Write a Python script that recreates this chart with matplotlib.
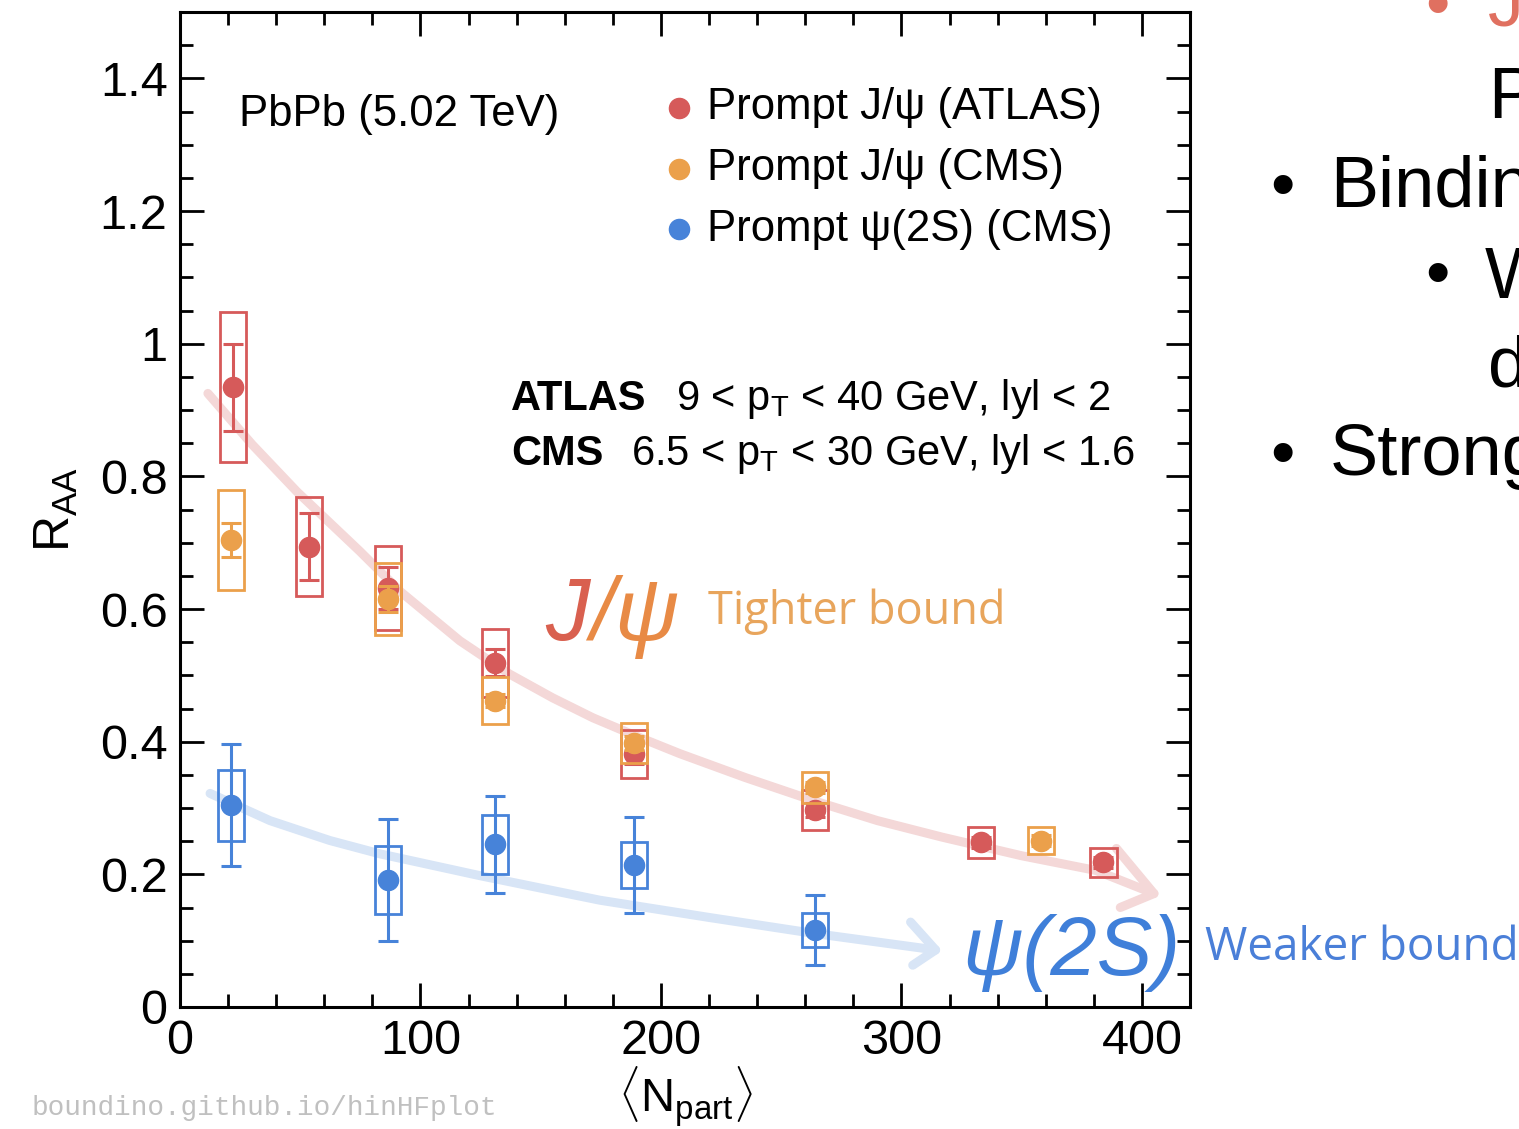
import matplotlib

matplotlib.use("Agg")
import matplotlib.pyplot as plt
from matplotlib.patches import Rectangle
from matplotlib.ticker import MultipleLocator


# R_AA vs <Npart>
npart_atlas = [22.0, 53.6, 86.5, 131.0, 188.7, 264.0, 333.0, 384.0]
raa_atlas = [0.934, 0.694, 0.632, 0.519, 0.381, 0.297, 0.248, 0.218]
stat_atlas = [0.065, 0.050, 0.032, 0.020, 0.014, 0.010, 0.008, 0.008]
syst_atlas = [0.113, 0.075, 0.063, 0.051, 0.036, 0.030, 0.024, 0.022]

npart_cms = [21.2, 86.5, 131.0, 188.7, 264.0, 358.0]
raa_jpsi_cms = [0.704, 0.615, 0.462, 0.398, 0.331, 0.251]
stat_jpsi_cms = [0.025, 0.020, 0.010, 0.010, 0.008, 0.008]
syst_jpsi_cms = [0.076, 0.054, 0.035, 0.030, 0.023, 0.021]

npart_psi2s = [21.2, 86.5, 131.0, 188.7, 264.0]
raa_psi2s = [0.304, 0.191, 0.245, 0.214, 0.116]
stat_psi2s = [0.092, 0.092, 0.073, 0.072, 0.053]
syst_psi2s = [0.054, 0.051, 0.044, 0.035, 0.026]

# hand-drawn guide arrows (data units)
guide_jpsi_x = [11.6, 30.0, 48.6, 74.8, 91.4, 116.4, 137.0, 155.0, 171.7, 190.0, 207.8, 235.0,
                263.5, 290.0, 317.0, 350.0, 380.7, 405.0]
guide_jpsi_y = [0.925, 0.848, 0.777, 0.687, 0.627, 0.552, 0.502, 0.466, 0.436, 0.408, 0.382,
                0.346, 0.311, 0.281, 0.256, 0.228, 0.206, 0.171]
guide_jpsi_head_x = [389.4, 405.0, 391.0]
guide_jpsi_head_y = [0.239, 0.171, 0.150]

guide_psi2s_x = [12.5, 37.4, 62.3, 83.0, 124.7, 174.6, 220.0, 263.5, 314.2]
guide_psi2s_y = [0.322, 0.281, 0.251, 0.231, 0.198, 0.161, 0.135, 0.111, 0.086]
guide_psi2s_head_x = [303.8, 314.2, 304.7]
guide_psi2s_head_y = [0.128, 0.086, 0.063]

RED = "#d65a5a"
ORANGE = "#eba04b"
BLUE = "#4783d9"
BOX_HALF = 5.5

W, H = 1519, 1129

plt.rcParams["font.family"] = ["Liberation Sans", "DejaVu Sans"]
plt.rcParams["mathtext.fontset"] = "custom"
plt.rcParams["mathtext.rm"] = "Liberation Sans"
plt.rcParams["mathtext.it"] = "Liberation Sans:italic"


def fpx(x, y):
    return x / W, 1 - y / H


def draw_series(ax, xs, ys, stat, syst, color, z):
    for x, y, s in zip(xs, ys, syst):
        ax.add_patch(Rectangle((x - BOX_HALF, y - s), 2 * BOX_HALF, 2 * s, fill=False,
                               edgecolor=color, linewidth=2.0, zorder=z))
    ax.errorbar(xs, ys, yerr=stat, fmt="o", color=color, markersize=14.5, elinewidth=2.2,
                capsize=7, capthick=2.2, zorder=z + 0.5)


fig = plt.figure(figsize=(W / 100, H / 100), dpi=100)
ax = fig.add_axes([180 / W, 1 - 1007 / H, 1010 / W, 995 / H])

ax.plot(guide_jpsi_x, guide_jpsi_y, color="#f4d8d8", lw=6.5, solid_capstyle="round",
        solid_joinstyle="round", zorder=1)
ax.plot(guide_jpsi_head_x, guide_jpsi_head_y, color="#f4d8d8", lw=6.5,
        solid_capstyle="round", solid_joinstyle="round", zorder=1)
ax.plot(guide_psi2s_x, guide_psi2s_y, color="#d8e5f6", lw=6.5, solid_capstyle="round",
        solid_joinstyle="round", zorder=1)
ax.plot(guide_psi2s_head_x, guide_psi2s_head_y, color="#d8e5f6", lw=6.5,
        solid_capstyle="round", solid_joinstyle="round", zorder=1)

draw_series(ax, npart_atlas, raa_atlas, stat_atlas, syst_atlas, RED, 3)
draw_series(ax, npart_cms, raa_jpsi_cms, stat_jpsi_cms, syst_jpsi_cms, ORANGE, 4)
draw_series(ax, npart_psi2s, raa_psi2s, stat_psi2s, syst_psi2s, BLUE, 5)

ax.set_xlim(0, 420)
ax.set_ylim(0, 1.5)
ax.xaxis.set_major_locator(MultipleLocator(100))
ax.xaxis.set_minor_locator(MultipleLocator(20))
ax.yaxis.set_major_locator(MultipleLocator(0.2))
ax.yaxis.set_minor_locator(MultipleLocator(0.05))
ax.set_yticks([0, 0.2, 0.4, 0.6, 0.8, 1.0, 1.2, 1.4])
ax.set_yticklabels(["0", "0.2", "0.4", "0.6", "0.8", "1", "1.2", "1.4"])
ax.tick_params(which="both", direction="in", top=True, right=True, width=2.0, labelsize=35)
ax.tick_params(which="major", length=17, pad=9)
ax.tick_params(which="minor", length=9.5)
for sp in ax.spines.values():
    sp.set_linewidth(2.2)

ax.set_ylabel(r"R$_{\mathrm{AA}}$", fontsize=36, labelpad=14)
ax.set_xlabel(r"$\langle$N$_{\mathrm{part}}\rangle$", fontsize=34, labelpad=0)

ax.text(0.058, 0.897, "PbPb (5.02 TeV)", transform=ax.transAxes, fontsize=31.5, va="center")

legend_rows = [("Prompt J/ψ (ATLAS)", RED), ("Prompt J/ψ (CMS)", ORANGE),
               ("Prompt ψ(2S) (CMS)", BLUE)]
for i, (label, color) in enumerate(legend_rows):
    yy = 1 - (108 + 60.5 * i - 12) / 995
    ax.plot([0.494], [yy], "o", color=color, markersize=14.5, transform=ax.transAxes,
            clip_on=False)
    ax.text(0.522, yy, label, transform=ax.transAxes, fontsize=31.5, va="center")

ax.text(0.328, 0.611, "ATLAS", transform=ax.transAxes, fontsize=30, fontweight="bold",
        va="center")
ax.text(0.491, 0.611, r"9 < p$_{\mathrm{T}}$ < 40 GeV, lyl < 2", transform=ax.transAxes,
        fontsize=30, va="center")
ax.text(0.328, 0.556, "CMS", transform=ax.transAxes, fontsize=30, fontweight="bold",
        va="center")
ax.text(0.447, 0.556, r"6.5 < p$_{\mathrm{T}}$ < 30 GeV, lyl < 1.6", transform=ax.transAxes,
        fontsize=30, va="center")

# hand-written annotations
fig.text(*fpx(545, 640), "J", fontsize=64, color="#d9604f", fontstyle="italic", va="baseline")
fig.text(*fpx(590, 640), "/ψ", fontsize=64, color="#e88a45", fontstyle="italic", va="baseline")
fig.text(*fpx(708, 612), "Tighter bound", fontsize=32.5, color="#e8a55c", va="center",
         family=["Open Sans", "DejaVu Sans"])
fig.text(*fpx(962, 975), "ψ(2S)", fontsize=60, color="#3f7fd9", fontstyle="italic",
         va="baseline")
fig.text(*fpx(1205, 948), "Weaker bound", fontsize=33, color="#4a7fd8", va="center",
         family=["Open Sans", "DejaVu Sans"])

fig.text(*fpx(32, 1108), "boundino.github.io/hinHFplot", fontsize=20, color="#c0c0c0",
         va="center", family=["Liberation Mono", "DejaVu Sans Mono"])

# slide text cut off at the right edge
fig.text(*fpx(1425, 26), "•", fontsize=50, color="#e07060", va="baseline")
fig.text(*fpx(1488, 26), "J", fontsize=52, color="#e07060", va="baseline")
fig.text(*fpx(1488, 118), "P", fontsize=52, va="baseline")
fig.text(*fpx(1270, 207), "•", fontsize=50, va="baseline")
fig.text(*fpx(1330, 207), "Binding", fontsize=52, va="baseline")
fig.text(*fpx(1425, 295), "•", fontsize=50, va="baseline")
fig.text(*fpx(1485, 298), "W", fontsize=52, va="baseline")
fig.text(*fpx(1488, 387), "d", fontsize=52, va="baseline")
fig.text(*fpx(1270, 475), "•", fontsize=50, va="baseline")
fig.text(*fpx(1330, 475), "Strong", fontsize=52, va="baseline")

fig.savefig("out.png", dpi=100)
